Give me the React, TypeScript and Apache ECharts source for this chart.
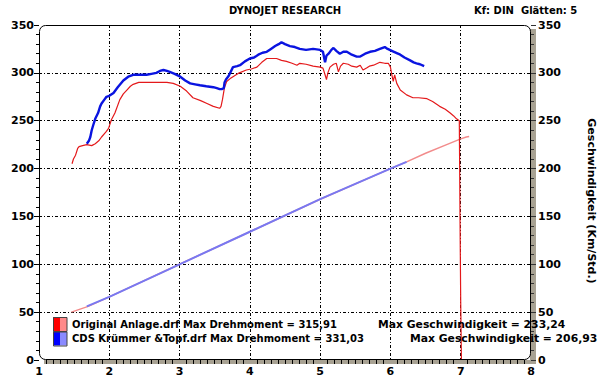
import React, { useEffect, useRef } from "react";
import * as echarts from "echarts";

const xTicks = [1, 2, 3, 4, 5, 6, 7, 8];
const yTicks = [0, 50, 100, 150, 200, 250, 300, 350];

const origTorque: [number, number][] = [
  [1.47, 205], [1.49, 210], [1.52, 214], [1.55, 221], [1.57, 223], [1.62, 224], [1.68, 225], [1.75, 224],
  [1.8, 226], [1.85, 229], [1.89, 233], [1.95, 238], [1.99, 242], [2.03, 251], [2.08, 258], [2.15, 272],
  [2.2, 278], [2.25, 282], [2.3, 286], [2.34, 288], [2.42, 290], [2.48, 290], [2.6, 290], [2.7, 290],
  [2.82, 290], [2.91, 289], [3.01, 286], [3.1, 281], [3.19, 274], [3.3, 271], [3.39, 268], [3.48, 265],
  [3.57, 263], [3.59, 265], [3.61, 272], [3.64, 285], [3.67, 291], [3.72, 294], [3.76, 296], [3.85, 300],
  [3.95, 303], [4.02, 304], [4.1, 306], [4.17, 311], [4.24, 315], [4.3, 315], [4.38, 315], [4.45, 313],
  [4.52, 312], [4.6, 310], [4.67, 308], [4.71, 310], [4.8, 309], [4.9, 307], [5.0, 306], [5.04, 305],
  [5.07, 298], [5.09, 293], [5.11, 300], [5.14, 306], [5.19, 309], [5.23, 310], [5.26, 301], [5.29, 307],
  [5.33, 310], [5.4, 309], [5.45, 307], [5.52, 306], [5.57, 308], [5.61, 303], [5.66, 305], [5.7, 307],
  [5.76, 308], [5.85, 311], [5.92, 310], [5.97, 310], [6.0, 306], [6.02, 298], [6.04, 291], [6.06, 298],
  [6.09, 289], [6.14, 282], [6.23, 277], [6.32, 274], [6.4, 274], [6.52, 273], [6.6, 270], [6.7, 265],
  [6.78, 262], [6.85, 258], [6.9, 255], [6.94, 252], [6.98, 250], [6.99, 150], [7.0, 60], [7.01, 0],
];

const cdsTorque: [number, number][] = [
  [1.68, 226], [1.71, 229], [1.73, 233], [1.75, 240], [1.77, 245], [1.8, 252], [1.84, 258], [1.87, 265],
  [1.89, 268], [1.93, 272], [1.96, 275], [2.0, 276], [2.06, 279], [2.12, 285], [2.2, 292], [2.27, 296],
  [2.34, 298], [2.43, 298], [2.53, 298], [2.6, 299], [2.67, 300], [2.72, 302], [2.77, 303], [2.82, 302],
  [2.86, 301], [2.93, 299], [3.01, 296], [3.08, 292], [3.15, 289], [3.22, 288], [3.29, 287], [3.38, 286],
  [3.48, 285], [3.53, 284], [3.57, 283], [3.6, 283], [3.63, 284], [3.64, 290], [3.66, 293], [3.7, 297],
  [3.76, 306], [3.82, 307], [3.86, 308], [3.93, 312], [4.0, 315], [4.06, 316], [4.12, 319], [4.18, 321],
  [4.24, 322], [4.3, 325], [4.36, 328], [4.41, 330], [4.45, 332], [4.5, 330], [4.57, 328], [4.64, 327],
  [4.71, 325], [4.8, 324], [4.9, 325], [5.0, 324], [5.04, 322], [5.07, 311], [5.09, 318], [5.12, 320],
  [5.16, 324], [5.19, 326], [5.23, 323], [5.28, 320], [5.33, 322], [5.38, 322], [5.45, 319], [5.52, 317],
  [5.57, 317], [5.64, 320], [5.71, 322], [5.78, 323], [5.85, 325], [5.92, 327], [5.96, 325], [5.99, 324],
  [6.05, 322], [6.14, 319], [6.2, 316], [6.28, 313], [6.33, 311], [6.37, 310], [6.42, 309], [6.48, 307],
];

const origSpeed: [number, number][] = [
  [1.46, 50], [1.7, 56], [2, 66], [3, 100], [4, 134], [5, 168], [6, 200], [6.23, 207],
  [6.5, 216], [6.8, 225], [7.0, 231], [7.08, 233], [7.12, 233.5],
];

const cdsSpeed: [number, number][] = [
  [1.68, 56], [2, 66], [3, 100], [4, 134], [5, 168], [6, 200], [6.23, 207],
];

const legendLines = [
  { label: "Original Anlage.drf Max Drehmoment = 315,91", speed: "Max Geschwindigkeit = 233,24", dark: "#ff0000", light: "#ff8a8a" },
  { label: "CDS Krümmer &Topf.drf Max Drehmoment = 331,03", speed: "Max Geschwindigkeit = 206,93", dark: "#0000ff", light: "#8a8aff" },
];

const FONT = "DejaVu Sans";

export default function App() {
  const ref = useRef<HTMLDivElement>(null);
  useEffect(() => {
    if (!ref.current) return;
    const chart = echarts.init(ref.current, null, { renderer: "svg" });
    const gridLine = { show: true, lineStyle: { color: "#000", width: 1, type: [3, 2, 1, 2] as any } };
    const labelStyle = { color: "#000", fontFamily: FONT, fontWeight: "bold" as const, fontSize: 11 };
    const speedX = [378, 410];
    chart.setOption({
      animation: false,
      backgroundColor: "#fff",
      grid: { left: 39, right: 68, top: 25, bottom: 21, containLabel: false },
      xAxis: {
        type: "value", min: 1, max: 8, interval: 1,
        axisLine: { show: false },
        axisTick: { show: false },
        minorTick: { show: true, splitNumber: 10, length: 4, lineStyle: { color: "#000" } },
        axisLabel: { ...labelStyle, margin: 6, formatter: (v: number) => (xTicks.includes(v) ? String(v) : "") },
        splitLine: { ...gridLine, showMinLine: false, showMaxLine: false },
      },
      yAxis: [
        {
          type: "value", min: 0, max: 350, interval: 50, position: "left",
          axisLine: { show: false },
          axisTick: { show: true, length: 5, lineStyle: { color: "#000" } },
          minorTick: { show: true, splitNumber: 5, length: 3, lineStyle: { color: "#000" } },
          axisLabel: { ...labelStyle, margin: 5, formatter: (v: number) => (yTicks.includes(v) ? String(v) : "") },
          splitLine: { ...gridLine, showMinLine: false, showMaxLine: false },
        },
        {
          type: "value", min: 0, max: 350, interval: 50, position: "right",
          axisLine: { show: false },
          axisTick: { show: true, length: 5, lineStyle: { color: "#333" } },
          minorTick: { show: true, splitNumber: 5, length: 3, lineStyle: { color: "#333" } },
          axisLabel: { ...labelStyle, margin: 7, formatter: (v: number) => (yTicks.includes(v) ? String(v) : "") },
          splitLine: { show: false },
        },
      ],
      series: [
        { type: "line", name: "Original Geschwindigkeit", yAxisIndex: 1, data: origSpeed, showSymbol: false, lineStyle: { color: "#f28c8c", width: 1.5 }, z: 3 },
        { type: "line", name: "CDS Geschwindigkeit", yAxisIndex: 1, data: cdsSpeed, showSymbol: false, lineStyle: { color: "#7878f2", width: 2 }, z: 4 },
        { type: "line", name: "Original Drehmoment", data: origTorque, showSymbol: false, lineStyle: { color: "#e4191b", width: 1.2 }, z: 5 },
        { type: "line", name: "CDS Drehmoment", data: cdsTorque, showSymbol: false, lineStyle: { color: "#0a14e0", width: 2.4 }, z: 6 },
      ],
      graphic: [
        { type: "rect", z: -10, shape: { x: 530, y: 29, width: 6, height: 334 }, style: { fill: "#a8a293" } },
        { type: "rect", z: -10, shape: { x: 44, y: 360, width: 492, height: 4 }, style: { fill: "#a8a293" } },
        { type: "rect", z: 50, shape: { x: 39.5, y: 25.5, width: 491, height: 334, r: 6 }, style: { fill: "none", stroke: "#000", lineWidth: 1 } },
        { type: "text", x: 285, y: 10, style: { text: "DYNOJET RESEARCH", font: `bold 10px '${FONT}'`, fill: "#000", textAlign: "center", textVerticalAlign: "middle" } },
        { type: "text", x: 474, y: 10, style: { text: "Kf: DIN  Glätten: 5", font: `bold 10px '${FONT}'`, fill: "#000", textAlign: "left", textVerticalAlign: "middle" } },
        { type: "text", x: 591, y: 201, rotation: -Math.PI / 2, style: { text: "Geschwindigkeit (Km/Std.)", font: `bold 11px '${FONT}'`, fill: "#000", textAlign: "center", textVerticalAlign: "middle" } },
        ...legendLines.flatMap((l, i) => {
          const y = 317 + i * 14.5;
          return [
            { type: "rect", z: 60, shape: { x: 53, y, width: 7, height: 14 }, style: { fill: l.dark } },
            { type: "rect", z: 60, shape: { x: 60, y, width: 7, height: 14 }, style: { fill: l.light } },
            { type: "rect", z: 61, shape: { x: 53.5, y: y + 0.5, width: 13.5, height: 14 }, style: { fill: "none", stroke: "#444", lineWidth: 1 } },
            { type: "text", z: 60, x: 72, y: y + 7, style: { text: l.label, font: `bold 10px '${FONT}'`, fill: "#000", textAlign: "left", textVerticalAlign: "middle" } },
            { type: "text", z: 60, x: speedX[i], y: y + 7, style: { text: l.speed, font: `bold 10.8px '${FONT}'`, fill: "#000", textAlign: "left", textVerticalAlign: "middle" } },
          ];
        }),
      ],
    });
    return () => chart.dispose();
  }, []);
  return <div ref={ref} style={{ width: 599, height: 381, position: "absolute", left: 0, top: 0 }} />;
}
